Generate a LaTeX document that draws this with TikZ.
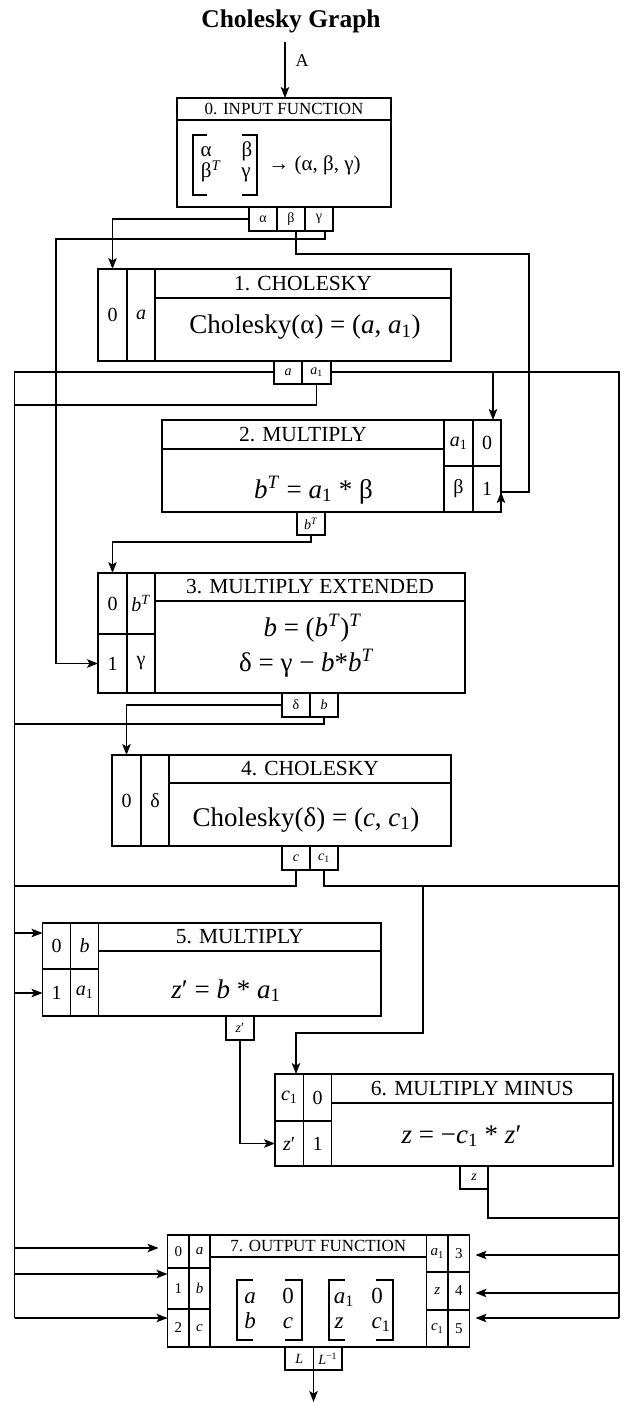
\documentclass[tikz,border=0pt]{standalone}
\usepackage{fontspec}
\setmainfont{Liberation Serif}
\usetikzlibrary{arrows.meta}
\newcommand\fs[1]{\fontsize{#1}{#1}\selectfont}
\newcommand\vi[1]{\textit{#1}}
\newcommand\sbs[1]{\textsubscript{#1}}
\newcommand\sps[1]{\textsuperscript{#1}}
\newcommand\prm{′}
\newcommand\mycell[6]{%
  \pgfmathsetmacro\cw{#4-#2}\pgfmathsetmacro\ch{#5-#3}%
  \node[cellsty,minimum width=\cw pt,minimum height=\ch pt,anchor=north west] (#1) at (#2,#3) {#6};}
\begin{document}
\begin{tikzpicture}[x=1pt,y=-1pt,
  cellsty/.style={draw,line width=1.1pt,inner sep=0pt,outer sep=0pt,align=center},
  txt/.style={inner sep=0pt,anchor=base},
  wire/.style={line width=1.1pt},
  brk/.style={line width=1.1pt},
  arr/.style={wire,-{Stealth[length=11pt,width=8.5pt,inset=2.5pt]}}]
\useasboundingbox (0,0) rectangle (621,1404);

% title and input
\node[txt,font=\bfseries\fs{25.5}] (title) at (291,28) {Cholesky Graph};
\coordinate (inA) at (285,42);
\node[txt,font=\fs{18}] (lA) at (302,67) {A};

% ---- box 0
\mycell{b0t}{177}{98}{391}{120}{\fs{17}0. INPUT FUNCTION}
\mycell{b0c}{177}{120}{391}{207}{}
\mycell{pa}{249}{207}{277}{231}{\fs{14}α}
\mycell{pb}{277}{207}{305}{231}{\fs{14}β}
\mycell{pg}{305}{207}{333}{231}{\fs{14}γ}
\node[txt,font=\fs{21}] (m0a) at (206,157) {α};
\node[txt,font=\fs{21}] (m0b) at (247,157) {β};
\node[txt,font=\fs{21}] (m0c) at (211,178) {β\sps{\vi{T}}};
\node[txt,font=\fs{21}] (m0d) at (246,178) {γ};
\draw[brk] (207,135) -- (193,135) -- (193,195) -- (207,195);
\draw[brk] (242,135) -- (257,135) -- (257,195) -- (242,195);
\node[txt,font=\fs{21}] (m0r) at (314.5,171) {→ (α, β, γ)};

% ---- box 1
\mycell{b1p0}{98}{269}{127}{361}{\fs{20}0}
\mycell{b1pa}{127}{269}{155}{361}{\fs{20}\vi{a}}
\mycell{b1t}{155}{269}{451}{298}{\fs{21.5}1. CHOLESKY}
\mycell{b1c}{155}{298}{451}{361}{}
\node[txt,font=\fs{27}] (b1x) at (305,334) {Cholesky(α) = (\vi{a}, \vi{a}\sbs{1})};
\mycell{b1oa}{274}{361}{302}{384}{\fs{14}\vi{a}}
\mycell{b1oa1}{302}{361}{331}{384}{\fs{14}\vi{a}\sbs{1}}

% ---- box 2
\mycell{b2t}{162}{420}{444}{449}{\fs{21.5}2. MULTIPLY}
\mycell{b2c}{162}{449}{444}{512}{}
\node[txt,font=\fs{27}] (b2x) at (313.5,498) {\vi{b}\sps{\vi{T}} = \vi{a}\sbs{1} * β};
\mycell{b2a1}{444}{420}{473}{466}{\fs{20}\vi{a}\sbs{1}}
\mycell{b2p0}{473}{420}{501}{466}{\fs{20}0}
\mycell{b2b}{444}{466}{473}{512}{\fs{20}β}
\mycell{b2p1}{473}{466}{501}{512}{\fs{20}1}
\mycell{b2o}{297}{512}{325}{535}{\fs{14}\vi{b}\sps{\vi{T}}}

% ---- box 3
\mycell{b3p0}{98}{573}{127}{634}{\fs{20}0}
\mycell{b3bt}{127}{573}{155}{634}{\fs{20}\vi{b}\sps{\vi{T}}}
\mycell{b3p1}{98}{634}{127}{693}{\fs{20}1}
\mycell{b3g}{127}{634}{155}{693}{\fs{20}γ}
\mycell{b3t}{155}{573}{465}{601}{\fs{21.5}3. MULTIPLY EXTENDED}
\mycell{b3c}{155}{601}{465}{693}{}
\node[txt,font=\fs{27}] (b3x) at (312.5,636) {\vi{b} = (\vi{b}\sps{\vi{T}})\sps{\vi{T}}};
\node[txt,font=\fs{27}] (b3y) at (306.5,671) {δ = γ − \vi{b}*\vi{b}\sps{\vi{T}}};
\mycell{b3od}{282}{693}{310}{717}{\fs{14}δ}
\mycell{b3ob}{310}{693}{338}{717}{\fs{14}\vi{b}}

% ---- box 4
\mycell{b4p0}{112}{755}{141}{846}{\fs{20}0}
\mycell{b4d}{141}{755}{169}{846}{\fs{20}δ}
\mycell{b4t}{169}{755}{451}{783}{\fs{21.5}4. CHOLESKY}
\mycell{b4c}{169}{783}{451}{846}{}
\node[txt,font=\fs{27}] (b4x) at (306,826) {Cholesky(δ) = (\vi{c}, \vi{c}\sbs{1})};
\mycell{b4oc}{282}{846}{310}{870}{\fs{14}\vi{c}}
\mycell{b4oc1}{310}{846}{338}{870}{\fs{14}\vi{c}\sbs{1}}

% ---- box 5
\mycell{b5p0}{42.5}{923}{70.5}{969}{\fs{20}0}
\mycell{b5b}{70.5}{923}{98.5}{969}{\fs{20}\vi{b}}
\mycell{b5p1}{42.5}{969}{70.5}{1016}{\fs{20}1}
\mycell{b5a1}{70.5}{969}{98.5}{1016}{\fs{20}\vi{a}\sbs{1}}
\mycell{b5t}{98.5}{923}{381}{951}{\fs{21.5}5. MULTIPLY}
\mycell{b5c}{98.5}{951}{381}{1016}{}
\node[txt,font=\fs{27}] (b5x) at (226,998) {\vi{z}\prm{} = \vi{b} * \vi{a}\sbs{1}};
\mycell{b5oz}{226}{1016}{254}{1040}{\fs{14}\vi{z}\prm}

% ---- box 6
\mycell{b6c1}{275}{1074}{303.5}{1121}{\fs{20}\vi{c}\sbs{1}}
\mycell{b6p0}{303.5}{1074}{331.5}{1121}{\fs{20}0}
\mycell{b6z}{275}{1121}{303.5}{1166}{\fs{20}\vi{z}\prm}
\mycell{b6p1}{303.5}{1121}{331.5}{1166}{\fs{20}1}
\mycell{b6t}{331.5}{1074}{613}{1103}{\fs{21.5}6. MULTIPLY MINUS}
\mycell{b6c}{331.5}{1103}{613}{1166}{}
\node[txt,font=\fs{27}] (b6x) at (461.5,1143) {\vi{z} = −\vi{c}\sbs{1} * \vi{z}\prm};
\mycell{b6oz}{460}{1166}{488}{1189}{\fs{14}\vi{z}}

% ---- box 7
\mycell{l0}{167.5}{1235}{189}{1268}{\fs{15}0}
\mycell{la}{189}{1235}{210}{1268}{\fs{15}\vi{a}}
\mycell{l1}{167.5}{1268}{189}{1309}{\fs{15}1}
\mycell{lb}{189}{1268}{210}{1309}{\fs{15}\vi{b}}
\mycell{l2}{167.5}{1309}{189}{1347}{\fs{15}2}
\mycell{lc}{189}{1309}{210}{1347}{\fs{15}\vi{c}}
\mycell{b7t}{210}{1235}{426.5}{1257}{\fs{17}7. OUTPUT FUNCTION}
\mycell{b7c}{210}{1257}{426.5}{1347}{}
\mycell{ra1}{426.5}{1235}{448}{1272}{\fs{15}\vi{a}\sbs{1}}
\mycell{r3}{448}{1235}{469.5}{1272}{\fs{15}3}
\mycell{rz}{426.5}{1272}{448}{1310}{\fs{15}\vi{z}}
\mycell{r4}{448}{1272}{469.5}{1310}{\fs{15}4}
\mycell{rc1}{426.5}{1310}{448}{1347}{\fs{15}\vi{c}\sbs{1}}
\mycell{r5}{448}{1310}{469.5}{1347}{\fs{15}5}
\draw[brk] (253,1280) -- (237,1280) -- (237,1340) -- (253,1340);
\draw[brk] (285,1280) -- (302,1280) -- (302,1340) -- (285,1340);
\draw[brk] (345,1280) -- (329,1280) -- (329,1340) -- (345,1340);
\draw[brk] (376,1280) -- (393,1280) -- (393,1340) -- (376,1340);
\node[txt,font=\fs{23}] (e1) at (250,1303) {\vi{a}};
\node[txt,font=\fs{23}] (e2) at (288,1303) {0};
\node[txt,font=\fs{23}] (e3) at (250,1328) {\vi{b}};
\node[txt,font=\fs{23}] (e4) at (288,1328) {\vi{c}};
\node[txt,font=\fs{23}] (e5) at (344,1303) {\vi{a}\sbs{1}};
\node[txt,font=\fs{23}] (e6) at (377,1303) {0};
\node[txt,font=\fs{23}] (e7) at (339,1328) {\vi{z}};
\node[txt,font=\fs{23}] (e8) at (381,1328) {\vi{c}\sbs{1}};
\mycell{oL}{285}{1347}{313.5}{1370}{\fs{14}\vi{L}}
\mycell{oLi}{313.5}{1347}{342}{1370}{\fs{14}\vi{L}\sps{−1}}

% ---- connectors
\draw[arr] (inA) -- (inA |- b0t.north);
% alpha
\draw[arr] (pa.west) -| (b1p0.north);
% beta
\coordinate (bt1) at (296,254);
\coordinate (bt2) at (529,254);
\coordinate (bt3) at (529,492);
\draw[wire] (pb.south -| bt1) -- (bt1) -- (bt2) -- (bt3) -- (bt3 -| b2p1.east);
\draw[arr] (b2p1.south east) -- (b2p1.east |- bt3);
% gamma
\coordinate (g1) at (325,239);
\coordinate (g2) at (56,239);
\draw[arr] (pg.south -| g1) -- (g1) -- (g2) |- (b3p1.west);
% rails
\coordinate (LT) at (14.5,372);
\coordinate (RT) at (619,372);
\coordinate (LB) at (14.5,1318);
\coordinate (RB) at (619,1318);
\draw[wire] (b1oa.west |- LT) -- (LT) -- (LB);
\draw[wire] (b1oa1.east |- RT) -- (RT) -- (RB);
\coordinate (a1b) at (493,372);
\draw[arr] (a1b) -- (a1b |- b2p0.north);
\coordinate (a1L) at (14.5,405);
\draw[wire] (b1oa1.south) |- (a1L);
% b^T
\coordinate (bT) at (112.5,542);
\draw[arr] (b2o.south) |- (bT) -- (b3p0.north);
% delta, b
\draw[arr] (b3od.west) -| (b4p0.north);
\coordinate (bL) at (14.5,724);
\draw[wire] (b3ob.south) |- (bL);
% c, c1
\coordinate (cL) at (14.5,886);
\coordinate (cR) at (619,886);
\draw[wire] (b4oc.south) |- (cL);
\draw[wire] (b4oc1.south) |- (cR);
\coordinate (c1b) at (423,886);
\coordinate (c1m) at (296,1033);
\draw[arr] (c1b) |- (c1m) -- (c1m |- b6c1.north);
% z', z
\draw[arr] (b5oz.south) |- (b6z.west);
\coordinate (zR) at (619,1218);
\draw[wire] (b6oz.south east) |- (zR);
% inputs of box 5
\coordinate (L5a) at (14.5,933);
\coordinate (L5b) at (14.5,993);
\draw[arr] (L5a) -- (L5a -| b5p0.west);
\draw[arr] (L5b) -- (L5b -| b5p1.west);
% inputs of box 7
\coordinate (L7a) at (14.5,1248);
\coordinate (L7b) at (14.5,1274);
\draw[arr] (L7a) -- ([xshift=-9pt]L7a -| l0.west);
\draw[arr] (L7b) -- (L7b -| l1.west);
\draw[arr] (LB) -- (LB -| l2.west);
\coordinate (R7a) at (619,1255);
\coordinate (R7b) at (619,1293);
\draw[arr] (R7a) -- ([xshift=6pt]R7a -| r3.east);
\draw[arr] (R7b) -- ([xshift=6pt]R7b -| r4.east);
\draw[arr] (RB) -- ([xshift=6pt]RB -| r5.east);
% output
\draw[arr] (oL.south east) -- ++(0,32);
\end{tikzpicture}
\end{document}
